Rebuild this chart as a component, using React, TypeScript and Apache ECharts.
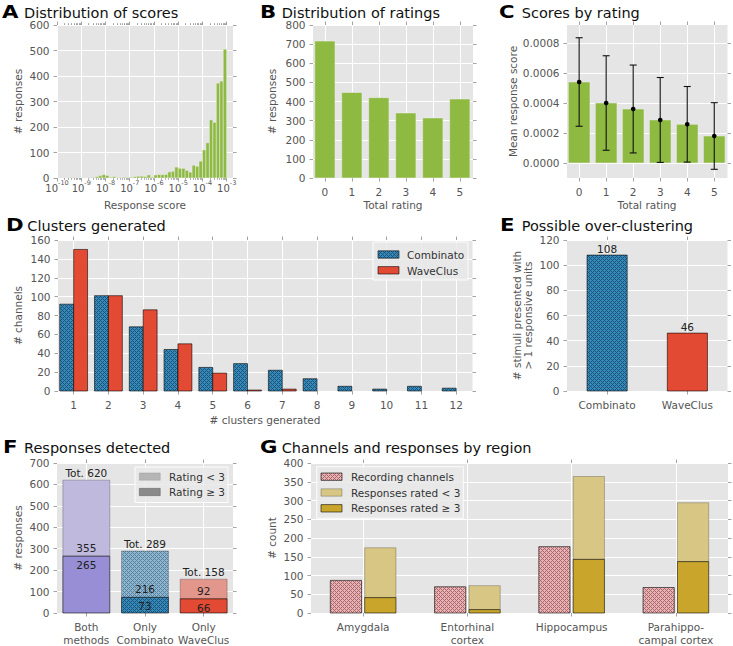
import React, { useEffect, useRef } from 'react';
import * as echarts from 'echarts';

const FONT = "'DejaVu Sans', 'Bitstream Vera Sans', sans-serif";
const LABEL_GRAY = '#555555';
const TICK_GRAY = '#8a8a8a';
const PANEL_BG = '#E5E5E5';
const GREEN = '#8EBA42';
const BLUE = '#348ABD';
const RED = '#E24A33';
const RED_LIGHT = '#E3978C';
const PURPLE = '#988ED5';
const PURPLE_LIGHT = '#BEB9DD';
const GOLD = '#C9A62B';
const GOLD_LIGHT = '#D8C684';
const EDGE = 'rgba(0,0,0,0.72)';
const EDGE_LIGHT = 'rgba(0,0,0,0.3)';

// ---------------- Panel A: distribution of scores (7 log bins per decade, 1e-10 .. 1e-3)
const scoreLogMin = -10;
const scoreLogMax = -2.74;
const scoreBinsPerDecade = 7;
const scoreCounts = [
  0, 0, 0, 0, 2, 0, 0,
  0, 0, 1, 2, 5, 9, 13,
  10, 3, 5, 1, 2, 3, 2,
  3, 5, 7, 7, 6, 12, 3,
  12, 13, 13, 14, 24, 26, 43,
  38, 38, 30, 23, 50, 46, 66,
  110, 138, 228, 218, 372, 380, 505,
];
const scoreTickExponents = [-10, -9, -8, -7, -6, -5, -4, -3];

// ---------------- Panel B: distribution of ratings
const totalRatings = [0, 1, 2, 3, 4, 5];
const ratingCounts = [716, 447, 420, 340, 314, 413];

// ---------------- Panel C: scores by rating
const meanScoreByRating = [0.00054, 0.0004, 0.00036, 0.000287, 0.000258, 0.00018];
const scoreErrByRating = [0.000295, 0.000315, 0.000293, 0.000283, 0.000252, 0.000222];
const meanScoreTicks = [0, 0.0002, 0.0004, 0.0006, 0.0008];

// ---------------- Panel D: clusters generated
const clustersGenerated = [1, 2, 3, 4, 5, 6, 7, 8, 9, 10, 11, 12];
const combinatoChannels = [92, 101, 68, 44, 25, 29, 22, 13, 5, 2, 5, 3];
const waveclusChannels = [150, 101, 86, 50, 19, 1, 2, 0, 0, 0, 0, 0];
const sorterNames = ['Combinato', 'WaveClus'];

// ---------------- Panel E: possible over-clustering
const overClusterStimuli = [108, 46];

// ---------------- Panel F: responses detected
const detectionGroups = ['Both\nmethods', 'Only\nCombinato', 'Only\nWaveClus'];
const detectedRatedHigh = [265, 73, 66];
const detectedRatedLow = [355, 216, 92];
const ratingLegend = ['Rating < 3', 'Rating \u2265 3'];

// ---------------- Panel G: channels and responses by region
const regionNames = ['Amygdala', 'Entorhinal\ncortex', 'Hippocampus', 'Parahippo-\ncampal cortex'];
const regionChannels = [87, 70, 177, 68];
const regionRatedLow = [133, 64, 221, 157];
const regionRatedHigh = [41, 9, 143, 137];
const regionLegend = ['Recording channels', 'Responses rated < 3', 'Responses rated \u2265 3'];

function hatch(base: string, dark: string) {
  const c = document.createElement('canvas');
  c.width = 4;
  c.height = 4;
  const ctx = c.getContext('2d');
  if (!ctx) return base as any;
  ctx.fillStyle = base;
  ctx.fillRect(0, 0, 4, 4);
  ctx.fillStyle = dark;
  for (let y = 0; y < 4; y++) {
    for (let x = 0; x < 4; x++) {
      if ((x - y + 4) % 4 === 0 || (x + y) % 4 === 0) ctx.fillRect(x, y, 1, 1);
    }
  }
  return { image: c.toDataURL(), repeat: 'repeat', imageWidth: 4, imageHeight: 4 } as any;
}

function rectEl(api: any, xc: number, w: number, y0: number, y1: number, style: any) {
  const a = api.coord([xc - w / 2, y1]);
  const b = api.coord([xc + w / 2, y0]);
  return {
    type: 'rect',
    shape: { x: a[0], y: a[1], width: b[0] - a[0], height: b[1] - a[1] },
    style,
  };
}

function textEl(x: number, y: number, text: string, o: any = {}) {
  const align = o.align || 'center';
  const va = o.va || 'middle';
  return {
    type: 'text',
    x,
    y,
    z: 100,
    z2: 20,
    rotation: o.rotation || 0,
    scaleX: o.scaleX || 1,
    style: {
      text,
      fill: o.fill || '#222222',
      fontSize: o.size || 10.5,
      fontFamily: FONT,
      fontWeight: o.weight || 'normal',
      lineHeight: o.lineHeight || undefined,
      align,
      textAlign: align,
      verticalAlign: va,
      textVerticalAlign: va,
    },
  };
}

const tickLine = { color: TICK_GRAY, width: 0.8 };

function buildOption() {
  const blueHatch = hatch(BLUE, '#1f5475');
  const blueLightHatch = hatch('#8DB7D3', '#5a8099');
  const pinkHatch = hatch('#EFB0B3', '#a06e71');

  const grids = [
    { left: 57, top: 25, width: 176, height: 153 }, // A
    { left: 313, top: 25, width: 160, height: 153 }, // B
    { left: 567, top: 25, width: 160.5, height: 153 }, // C
    { left: 58, top: 240, width: 414.5, height: 151 }, // D
    { left: 567, top: 240, width: 160.5, height: 151 }, // E
    { left: 57, top: 463, width: 176, height: 150 }, // F
    { left: 311, top: 463, width: 417, height: 150 }, // G
  ];

  const xAxes: any[] = [];
  const yAxes: any[] = [];

  const addX = (gridIndex: number, min: number, max: number, ticks: number[], label: any, opts: any = {}) => {
    const idx = xAxes.length;
    xAxes.push({
      type: 'value', gridIndex, min, max, position: 'bottom',
      axisLine: { show: false, onZero: false },
      axisTick: { show: true, inside: false, length: 3.5, lineStyle: tickLine, customValues: ticks },
      axisLabel: {
        show: true, customValues: ticks, color: LABEL_GRAY, fontFamily: FONT, fontSize: 10.5,
        lineHeight: 13, margin: 7.5, hideOverlap: false, showMinLabel: true, showMaxLabel: true, ...label,
      },
      splitLine: { show: true, lineStyle: { color: '#FFFFFF', width: 1 } },
    });
    xAxes.push({
      type: 'value', gridIndex, min, max, position: 'top',
      axisLine: { show: false, onZero: false },
      axisTick: { show: true, inside: false, length: 3.5, lineStyle: tickLine, customValues: ticks },
      axisLabel: { show: false },
      splitLine: { show: false },
    });
    if (opts.minor) {
      for (const pos of ['bottom', 'top']) {
        xAxes.push({
          type: 'value', gridIndex, min, max, position: pos,
          axisLine: { show: false, onZero: false },
          axisTick: { show: true, inside: false, length: 1.8, lineStyle: tickLine, customValues: opts.minor },
          axisLabel: { show: false },
          splitLine: { show: false },
        });
      }
    }
    return idx;
  };

  const addY = (gridIndex: number, min: number, max: number, step: number | null, ticks: number[] | null, label: any = {}) => {
    const idx = yAxes.length;
    const common: any = { type: 'value', gridIndex, min, max };
    if (step !== null) common.interval = step;
    yAxes.push({
      ...common, position: 'left',
      axisLine: { show: false, onZero: false },
      axisTick: { show: true, inside: false, length: 3.5, lineStyle: tickLine, ...(ticks ? { customValues: ticks } : {}) },
      axisLabel: {
        show: true, color: LABEL_GRAY, fontFamily: FONT, fontSize: 10.5, margin: 7.5, hideOverlap: false,
        ...(ticks ? { customValues: ticks } : {}), ...label,
      },
      splitLine: { show: true, lineStyle: { color: '#FFFFFF', width: 1 } },
    });
    yAxes.push({
      ...common, position: 'right',
      axisLine: { show: false, onZero: false },
      axisTick: { show: true, inside: false, length: 3.5, lineStyle: tickLine, ...(ticks ? { customValues: ticks } : {}) },
      axisLabel: { show: false },
      splitLine: { show: false },
    });
    return idx;
  };

  // ----- axes
  const minorLog: number[] = [];
  for (let n = -10; n < -3; n++) for (let m = 2; m <= 9; m++) minorLog.push(n + Math.log10(m));

  const axA = addX(0, scoreLogMin, scoreLogMax, scoreTickExponents, {
    formatter: (v: number) => `{b|10}{s|-${Math.round(-v)}}`,
    margin: 2,
    rich: {
      b: { fontSize: 10, fontFamily: FONT, color: LABEL_GRAY, lineHeight: 14, padding: [2, 0, 0, 0] },
      s: { fontSize: 6.5, fontFamily: FONT, color: LABEL_GRAY, lineHeight: 8, padding: [0, 0, 8, 0] },
    },
  }, { minor: minorLog });
  const ayA = addY(0, 0, 600, 100, null);

  const axB = addX(1, -0.44, 5.49, totalRatings, { formatter: (v: number) => String(Math.round(v)) });
  const ayB = addY(1, 0, 800, 100, null);

  const axC = addX(2, -0.45, 5.49, totalRatings, { formatter: (v: number) => String(Math.round(v)) });
  const ayC = addY(2, -0.0001, 0.00092, null, meanScoreTicks, { formatter: (v: number) => v.toFixed(4) });

  const axD = addX(3, 0.55, 12.47, clustersGenerated, { formatter: (v: number) => String(Math.round(v)) });
  const ayD = addY(3, 0, 160, 20, null);

  const axE = addX(4, -0.5, 1.5, [0, 1], { formatter: (v: number) => sorterNames[Math.round(v)] || '' });
  const ayE = addY(4, 0, 120, 20, null);

  const axF = addX(5, -0.5, 2.5, [0, 1, 2], { formatter: (v: number) => detectionGroups[Math.round(v)] || '' });
  const ayF = addY(5, 0, 700, 100, null);

  const axG = addX(6, -0.5, 3.5, [0, 1, 2, 3], { formatter: (v: number) => regionNames[Math.round(v)] || '' });
  const ayG = addY(6, 0, 400, 50, null);

  const series: any[] = [];

  // A histogram
  series.push({
    type: 'custom', xAxisIndex: axA, yAxisIndex: ayA, silent: true,
    encode: { x: [0, 1], y: 2 },
    data: scoreCounts.map((c, k) => [
      scoreLogMin + k / scoreBinsPerDecade,
      scoreLogMin + (k + 1) / scoreBinsPerDecade,
      c,
    ]),
    renderItem: (_p: any, api: any) => {
      const l = api.value(0), r = api.value(1), c = api.value(2);
      if (!c) return null;
      const a = api.coord([l, c]);
      const b = api.coord([r, 0]);
      return {
        type: 'rect',
        shape: { x: a[0], y: a[1], width: b[0] - a[0], height: b[1] - a[1] },
        style: { fill: GREEN, stroke: '#EEEEEE', lineWidth: 0.5 },
      };
    },
  });

  // B
  series.push({
    type: 'custom', xAxisIndex: axB, yAxisIndex: ayB, silent: true,
    data: totalRatings.map((r, i) => [r, ratingCounts[i]]),
    renderItem: (_p: any, api: any) =>
      rectEl(api, api.value(0), 0.75, 0, api.value(1), { fill: GREEN, stroke: '#EEEEEE', lineWidth: 0.5 }),
  });

  // C bars + error bars
  series.push({
    type: 'custom', xAxisIndex: axC, yAxisIndex: ayC, silent: true,
    data: totalRatings.map((r, i) => [r, meanScoreByRating[i]]),
    renderItem: (_p: any, api: any) =>
      rectEl(api, api.value(0), 0.8, 0, api.value(1), { fill: GREEN, stroke: '#EEEEEE', lineWidth: 0.5 }),
  });
  series.push({
    type: 'custom', xAxisIndex: axC, yAxisIndex: ayC, silent: true,
    data: totalRatings.map((r, i) => [r, meanScoreByRating[i], scoreErrByRating[i]]),
    renderItem: (_p: any, api: any) => {
      const x = api.value(0), m = api.value(1), e = api.value(2);
      const t = api.coord([x, m + e]);
      const b = api.coord([x, m - e]);
      const c = api.coord([x, m]);
      const st = { stroke: '#111111', lineWidth: 1.1 };
      return {
        type: 'group',
        children: [
          { type: 'line', shape: { x1: t[0], y1: t[1], x2: b[0], y2: b[1] }, style: st },
          { type: 'line', shape: { x1: t[0] - 3.5, y1: t[1], x2: t[0] + 3.5, y2: t[1] }, style: st },
          { type: 'line', shape: { x1: b[0] - 3.5, y1: b[1], x2: b[0] + 3.5, y2: b[1] }, style: st },
          { type: 'circle', shape: { cx: c[0], cy: c[1], r: 2.3 }, style: { fill: '#000000' } },
        ],
      };
    },
  });

  // D
  series.push({
    type: 'custom', xAxisIndex: axD, yAxisIndex: ayD, silent: true,
    data: clustersGenerated.map((n, i) => [n, combinatoChannels[i]]),
    renderItem: (_p: any, api: any) => {
      const v = api.value(1);
      if (!v) return null;
      return rectEl(api, api.value(0) - 0.2, 0.4, 0, v, { fill: blueHatch, stroke: EDGE, lineWidth: 0.8 });
    },
  });
  series.push({
    type: 'custom', xAxisIndex: axD, yAxisIndex: ayD, silent: true,
    data: clustersGenerated.map((n, i) => [n, waveclusChannels[i]]),
    renderItem: (_p: any, api: any) => {
      const v = api.value(1);
      if (!v) return null;
      return rectEl(api, api.value(0) + 0.2, 0.4, 0, v, { fill: RED, stroke: EDGE, lineWidth: 0.8 });
    },
  });

  // E
  const sorterFills = [blueHatch, RED];
  series.push({
    type: 'custom', xAxisIndex: axE, yAxisIndex: ayE, silent: true,
    data: overClusterStimuli.map((v, i) => [i, v]),
    renderItem: (p: any, api: any) => {
      const x = api.value(0), v = api.value(1);
      const top = api.coord([x, v]);
      return {
        type: 'group',
        children: [
          rectEl(api, x, 0.5, 0, v, { fill: sorterFills[p.dataIndex], stroke: EDGE, lineWidth: 0.8 }),
          textEl(top[0], top[1] - 0.5, String(v), { va: 'bottom', fill: '#222222' }),
        ],
      };
    },
  });

  // F
  const lowerFills = [PURPLE, blueHatch, RED];
  const upperFills = [PURPLE_LIGHT, blueLightHatch, RED_LIGHT];
  series.push({
    type: 'custom', xAxisIndex: axF, yAxisIndex: ayF, silent: true,
    data: detectedRatedHigh.map((h, i) => [i, h, detectedRatedLow[i]]),
    renderItem: (p: any, api: any) => {
      const x = api.value(0), h = api.value(1), l = api.value(2);
      const top = api.coord([x, h + l]);
      const mid = api.coord([x, h]);
      return {
        type: 'group',
        children: [
          rectEl(api, x, 0.8, h, h + l, { fill: upperFills[p.dataIndex], stroke: EDGE_LIGHT, lineWidth: 0.8 }),
          rectEl(api, x, 0.8, 0, h, { fill: lowerFills[p.dataIndex], stroke: EDGE, lineWidth: 0.8 }),
          textEl(top[0], top[1] - 2, 'Tot. ' + (h + l), { va: 'bottom' }),
          textEl(mid[0], mid[1] - 2.5, String(l), { va: 'bottom' }),
          textEl(mid[0], mid[1] + 3.5, String(h), { va: 'top' }),
        ],
      };
    },
  });

  // G
  series.push({
    type: 'custom', xAxisIndex: axG, yAxisIndex: ayG, silent: true,
    data: regionChannels.map((c, i) => [i, c, regionRatedHigh[i], regionRatedLow[i]]),
    renderItem: (_p: any, api: any) => {
      const x = api.value(0), c = api.value(1), h = api.value(2), l = api.value(3);
      return {
        type: 'group',
        children: [
          rectEl(api, x - 0.165, 0.3, 0, c, { fill: pinkHatch, stroke: EDGE, lineWidth: 0.8 }),
          rectEl(api, x + 0.165, 0.3, h, h + l, { fill: GOLD_LIGHT, stroke: EDGE_LIGHT, lineWidth: 0.8 }),
          rectEl(api, x + 0.165, 0.3, 0, h, { fill: GOLD, stroke: EDGE, lineWidth: 0.8 }),
        ],
      };
    },
  });

  // ----- graphic: titles, axis titles, legends
  const els: any[] = [];
  const titles: [string, string, number, number, number][] = [
    ['A', 'Distribution of scores', 2, 24, 12],
    ['B', 'Distribution of ratings', 260, 281.7, 12],
    ['C', 'Scores by rating', 499, 521.7, 12],
    ['D', 'Clusters generated', 6, 27.3, 225],
    ['E', 'Possible over-clustering', 500, 521.7, 225],
    ['F', 'Responses detected', 3, 24, 447],
    ['G', 'Channels and responses by region', 260, 281.7, 447],
  ];
  for (const [letter, text, lx, tx, y] of titles) {
    els.push(textEl(lx, y + 0.5, letter, { align: 'left', size: 18, weight: 'bold', fill: '#000000', scaleX: 1.18 }));
    els.push(textEl(tx, y + 0.5, text, { align: 'left', size: 14.5, fill: '#111111' }));
  }
  const R = Math.PI / 2;
  const axisTitles: [string, number, number, number][] = [
    ['# responses', 18.3, 101.5, R],
    ['Response score', 145, 204.5, 0],
    ['# responses', 271.7, 101.5, R],
    ['Total rating', 393, 204.5, 0],
    ['Mean response score', 513.3, 101.5, R],
    ['Total rating', 647, 204.5, 0],
    ['# channels', 18, 315.5, R],
    ['# clusters generated', 265, 420, 0],
    ['# stimuli presented with\n> 1 responsive units', 522, 315.5, R],
    ['# responses', 18, 538, R],
    ['# count', 271.7, 538, R],
  ];
  for (const [t, x, y, rot] of axisTitles) {
    els.push(textEl(x, y, t, { rotation: rot, fill: LABEL_GRAY, size: 10.5, lineHeight: 11 }));
  }

  const legendBox = (x: number, y: number, w: number, h: number) => ({
    type: 'rect', z: 90, shape: { x, y, width: w, height: h },
    style: { fill: 'rgba(233,233,233,0.85)', stroke: 'rgba(255,255,255,0.9)', lineWidth: 1 },
  });
  const patch = (x: number, yc: number, fill: any, stroke: string) => ({
    type: 'rect', z: 95, shape: { x, y: yc - 3.7, width: 21, height: 7.4 },
    style: { fill, stroke, lineWidth: 0.8 },
  });

  // D legend
  els.push(legendBox(373, 242, 95, 38));
  els.push(patch(378, 254.5, blueHatch, EDGE));
  els.push(patch(378, 270.3, RED, EDGE));
  els.push(textEl(407, 255, sorterNames[0], { align: 'left', fill: '#333333' }));
  els.push(textEl(407, 270.5, sorterNames[1], { align: 'left', fill: '#333333' }));

  // F legend
  els.push(legendBox(135, 467, 93, 35.5));
  els.push(patch(139.3, 476.6, '#B5B5B5', 'rgba(0,0,0,0.12)'));
  els.push(patch(139.3, 492, '#8A8A8A', 'rgba(0,0,0,0.3)'));
  els.push(textEl(169, 476.7, ratingLegend[0], { align: 'left', fill: '#333333' }));
  els.push(textEl(169, 492, ratingLegend[1], { align: 'left', fill: '#333333' }));

  // G legend
  els.push(legendBox(316.7, 466.7, 146.6, 51.6));
  els.push(patch(321, 476.7, pinkHatch, EDGE));
  els.push(patch(321, 492.5, GOLD_LIGHT, EDGE_LIGHT));
  els.push(patch(321, 508.3, GOLD, EDGE));
  els.push(textEl(351, 476.7, regionLegend[0], { align: 'left', fill: '#333333' }));
  els.push(textEl(351, 492.5, regionLegend[1], { align: 'left', fill: '#333333' }));
  els.push(textEl(351, 508.3, regionLegend[2], { align: 'left', fill: '#333333' }));

  return {
    animation: false,
    backgroundColor: '#ffffff',
    textStyle: { fontFamily: FONT },
    grid: grids.map((g) => ({
      ...g, show: true, backgroundColor: PANEL_BG, borderWidth: 0, containLabel: false, outerBoundsMode: 'none',
    })),
    xAxis: xAxes,
    yAxis: yAxes,
    series,
    graphic: { elements: els },
  };
}

export default function App() {
  const ref = useRef<HTMLDivElement>(null);
  useEffect(() => {
    if (!ref.current) return;
    const chart = echarts.init(ref.current, null, { renderer: 'svg', width: 733, height: 646 });
    chart.setOption(buildOption() as any);
    return () => chart.dispose();
  }, []);
  return (
    <div
      ref={ref}
      style={{ position: 'fixed', left: 0, top: 0, width: 733, height: 646, background: '#ffffff' }}
    />
  );
}
